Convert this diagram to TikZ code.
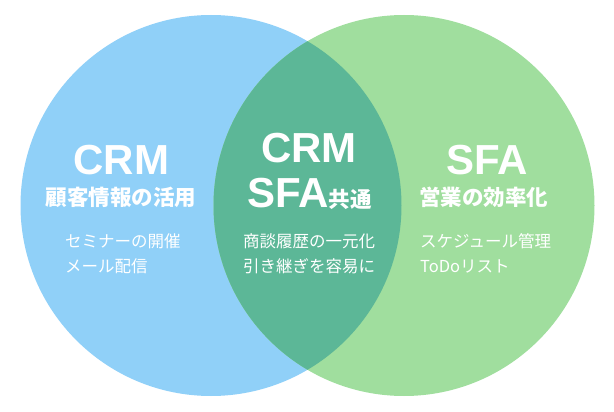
\documentclass[tikz,border=0pt]{standalone}
\usepackage{fontspec}
\newfontfamily\latin{Liberation Sans}
\newfontfamily\cjk{Noto Sans CJK JP}
\definecolor{crmblue}{HTML}{90D0F8}
\definecolor{sfagreen}{HTML}{A0DE9E}
\definecolor{bothgreen}{HTML}{5CB797}
\begin{document}
\begin{tikzpicture}[x=1pt,y=-1pt,
	title/.style={text=white,inner sep=0pt,anchor=base,font=\latin\bfseries\fontsize{42}{42}\selectfont},
	sub/.style={text=white,inner sep=0pt,anchor=base,font=\cjk\bfseries\fontsize{21.5}{21.5}\selectfont},
	item/.style={text=white,inner sep=0pt,anchor=base west,font=\cjk\fontsize{16.5}{16.5}\selectfont}]
			\useasboundingbox (0,0) rectangle (614,412);
			\fill[crmblue] (211,205.5) circle [radius=190.5pt];
			\fill[sfagreen] (404,205.5) circle [radius=190.5pt];
			\begin{scope}
				\clip (211,205.5) circle [radius=190.5pt];
				\fill[bothgreen] (404,205.5) circle [radius=190.5pt];
			\end{scope}
			% CRM
			\node[title] (crm) at (121.5,175) {CRM};
			\node[sub] (crmsub) at (121,205.5) {顧客情報の活用};
			\node[item] (crma) at (65,247) {セミナーの開催};
			\node[item] (crmb) at (65,272) {メール配信};
			% common
			\node[title] (both) at (309,163) {CRM};
			\node[title] (bothsub) at (309.5,207.5) {SFA{\cjk\fontsize{21.5}{21.5}\selectfont 共通}};
			\node[item,anchor=base] (botha) at (309,247) {商談履歴の一元化};
			\node[item,anchor=base] (bothb) at (309,272) {引き継ぎを容易に};
			% SFA
			\node[title] (sfa) at (487,175) {SFA};
			\node[sub] (sfasub) at (483.5,205.5) {営業の効率化};
			\node[item] (sfaa) at (420,247) {スケジュール管理};
			\node[item] (sfab) at (420,272) {ToDoリスト};
	\end{tikzpicture}
\end{document}
